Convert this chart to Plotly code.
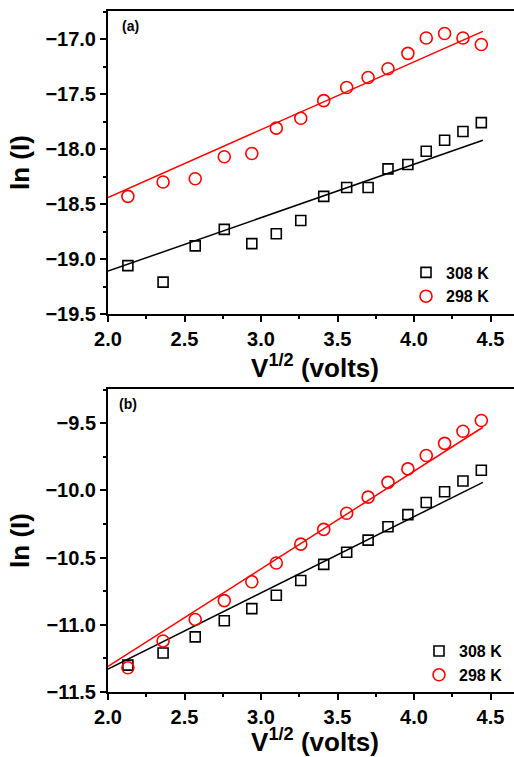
import plotly.graph_objects as go

# ---------------- data ----------------
sqrt_v = [2.13, 2.36, 2.57, 2.76, 2.94, 3.10, 3.26, 3.41, 3.56, 3.70,
          3.83, 3.96, 4.08, 4.20, 4.32, 4.44]

# panel (a)
a_308 = [-19.06, -19.21, -18.88, -18.73, -18.86, -18.77, -18.65, -18.43,
         -18.35, -18.35, -18.18, -18.14, -18.02, -17.92, -17.84, -17.76]
a_298 = [-18.43, -18.30, -18.27, -18.07, -18.04, -17.81, -17.72, -17.56,
         -17.44, -17.35, -17.27, -17.13, -16.99, -16.95, -16.99, -17.05]

# panel (b)
b_308 = [-11.30, -11.21, -11.09, -10.97, -10.88, -10.78, -10.67, -10.55,
         -10.46, -10.37, -10.27, -10.18, -10.09, -10.01, -9.93, -9.85]
b_298 = [-11.32, -11.12, -10.96, -10.82, -10.68, -10.54, -10.40, -10.29,
         -10.17, -10.05, -9.94, -9.84, -9.74, -9.65, -9.56, -9.48]

# linear fit lines (end points)
fit_x = [2.0, 4.45]
a_fit_308 = [-19.11, -17.92]
a_fit_298 = [-18.44, -16.93]
b_fit_308 = [-11.33, -9.94]
b_fit_298 = [-11.31, -9.53]

series_names = ["308 K", "298 K"]

# tick labels
x_tickvals = [2.0, 2.5, 3.0, 3.5, 4.0, 4.5]
x_ticktext = ["2.0", "2.5", "3.0", "3.5", "4.0", "4.5"]
ya_tickvals = [-19.5, -19.0, -18.5, -18.0, -17.5, -17.0]
ya_ticktext = ["\u221219.5", "\u221219.0", "\u221218.5", "\u221218.0", "\u221217.5", "\u221217.0"]
yb_tickvals = [-11.5, -11.0, -10.5, -10.0, -9.5]
yb_ticktext = ["\u221211.5", "\u221211.0", "\u221210.5", "\u221210.0", "\u22129.5"]

# ---------------- figure ----------------
FONT = "Liberation Sans, Arial, sans-serif"
BLACK = "#000000"
RED = "#ff0000"

fig = go.Figure()

def add_panel(xa, ya, s308, s298, f308, f298, legend):
    fig.add_trace(go.Scatter(x=fit_x, y=f308, mode="lines", xaxis=xa, yaxis=ya,
                             line=dict(color=BLACK, width=1.5), showlegend=False,
                             hoverinfo="skip"))
    fig.add_trace(go.Scatter(x=fit_x, y=f298, mode="lines", xaxis=xa, yaxis=ya,
                             line=dict(color=RED, width=1.5), showlegend=False,
                             hoverinfo="skip"))
    fig.add_trace(go.Scatter(x=sqrt_v, y=s308, mode="markers", xaxis=xa, yaxis=ya,
                             name=series_names[0], legend=legend,
                             marker=dict(symbol="square-open", size=10, color=BLACK,
                                         line=dict(width=1.6, color=BLACK))))
    fig.add_trace(go.Scatter(x=sqrt_v, y=s298, mode="markers", xaxis=xa, yaxis=ya,
                             name=series_names[1], legend=legend,
                             marker=dict(symbol="circle-open", size=12, color=RED,
                                         line=dict(width=1.6, color=RED))))

add_panel("x", "y", a_308, a_298, a_fit_308, a_fit_298, "legend")
add_panel("x2", "y2", b_308, b_298, b_fit_308, b_fit_298, "legend2")

tickfont = dict(family=FONT, size=20, color=BLACK, weight="bold")
titlefont = dict(family=FONT, size=26, color=BLACK, weight="bold")

# the figure is a little wider than the 514 px window so the right frame edge is cut off
W = 522
xcommon = dict(range=[2.0, 2.0 + (W - 108) / 153.0], tickvals=x_tickvals, ticktext=x_ticktext,
               showline=True, linecolor=BLACK, linewidth=2, mirror=True,
               ticks="outside", ticklen=6, tickwidth=1.5, tickcolor=BLACK,
               minor=dict(tickvals=[2.25, 2.75, 3.25, 3.75, 4.25], ticks="outside",
                          ticklen=3, tickwidth=1.5, tickcolor=BLACK),
               showgrid=False, zeroline=False, tickfont=tickfont,
               title=dict(text="V<sup>1/2</sup> (volts)", font=titlefont, standoff=2))
ycommon = dict(showline=True, linecolor=BLACK, linewidth=2, mirror=False,
               ticks="outside", ticklen=6, tickwidth=1.5, tickcolor=BLACK,
               showgrid=False, zeroline=False, tickfont=tickfont,
               title=dict(text="ln (I)", font=titlefont, standoff=8))

legfont = dict(family=FONT, size=16, color=BLACK, weight="bold")
px_w = W - 108

fig.update_layout(
    width=W, height=757,
    margin=dict(l=108, r=0, t=11, b=65),
    plot_bgcolor="white", paper_bgcolor="white",
    xaxis=dict(anchor="y", **xcommon),
    xaxis2=dict(anchor="y2", **xcommon),
    yaxis=dict(anchor="x", domain=[0.555, 1.0], range=[-19.5, -16.745],
               tickvals=ya_tickvals, ticktext=ya_ticktext,
               minor=dict(tickvals=[-19.25, -18.75, -18.25, -17.75, -17.25, -16.75],
                          ticks="outside", ticklen=3, tickwidth=1.5, tickcolor=BLACK),
               **ycommon),
    yaxis2=dict(anchor="x2", domain=[0.0, 0.445], range=[-11.5, -9.245],
                tickvals=yb_tickvals, ticktext=yb_ticktext,
                minor=dict(tickvals=[-11.25, -10.75, -10.25, -9.75, -9.25],
                           ticks="outside", ticklen=3, tickwidth=1.5, tickcolor=BLACK),
                **ycommon),
    legend=dict(x=(406 - 108) / px_w, y=0.641, xanchor="left", yanchor="top",
                bgcolor="rgba(0,0,0,0)", borderwidth=0, tracegroupgap=0,
                font=legfont),
    legend2=dict(x=(419 - 108) / px_w, y=0.085, xanchor="left", yanchor="top",
                 bgcolor="rgba(0,0,0,0)", borderwidth=0, tracegroupgap=0,
                 font=legfont),
    annotations=[
        dict(text="(a)", xref="paper", yref="y domain", x=(120 - 108) / px_w, y=0.95,
             xanchor="left", yanchor="middle", showarrow=False,
             font=dict(family=FONT, size=14, color=BLACK, weight="bold")),
        dict(text="(b)", xref="paper", yref="y2 domain", x=(117 - 108) / px_w, y=0.95,
             xanchor="left", yanchor="middle", showarrow=False,
             font=dict(family=FONT, size=14, color=BLACK, weight="bold")),
    ],
)

fig.write_html("out.html", config={"displayModeBar": False},
               post_script="document.body.style.margin='0';document.body.style.overflow='hidden';")
